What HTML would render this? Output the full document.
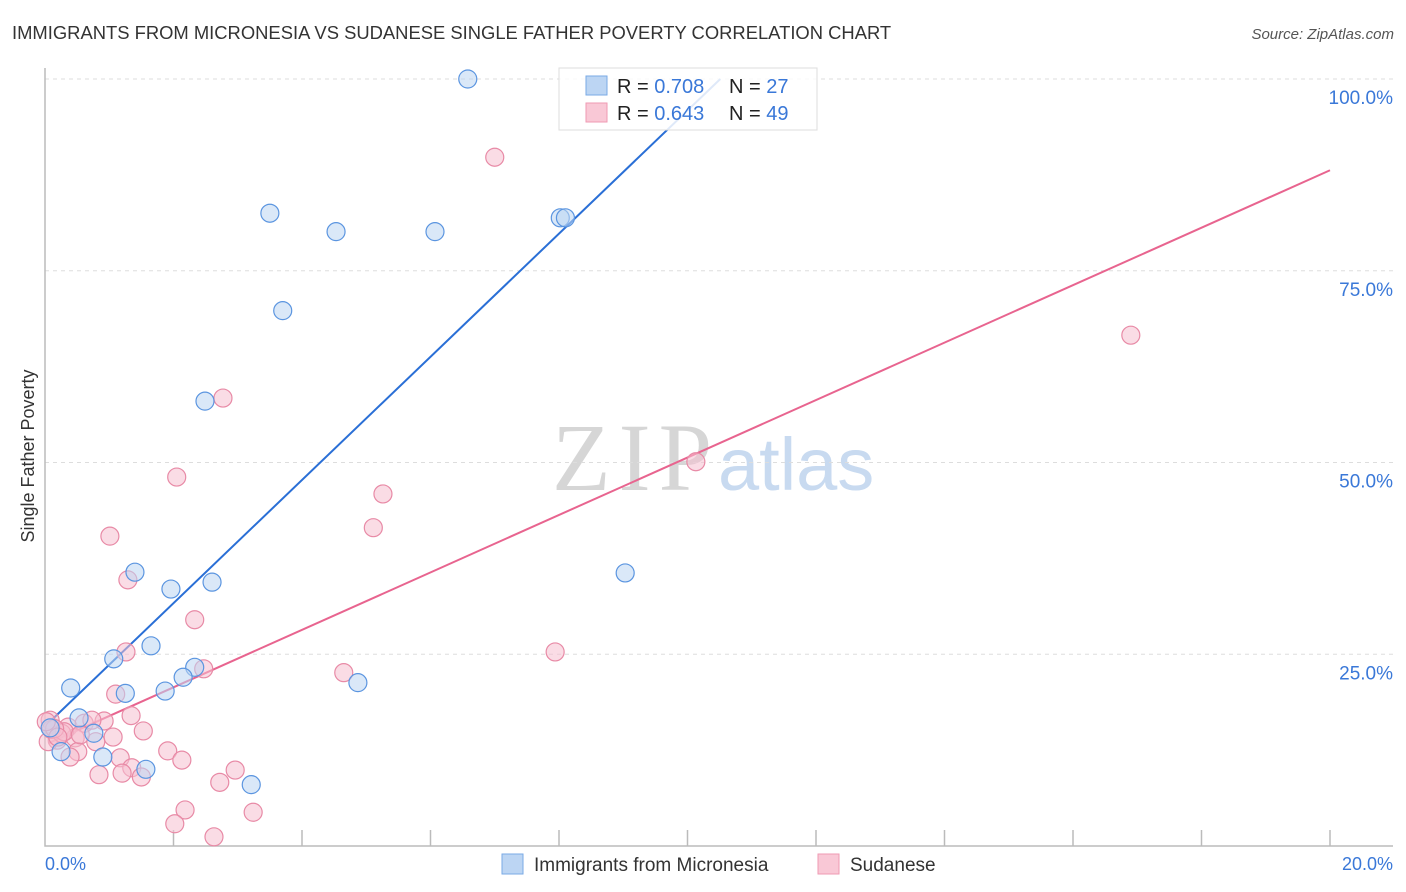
<!DOCTYPE html>
<html><head><meta charset="utf-8"><style>
body{margin:0;background:#fff;font-family:"Liberation Sans",sans-serif}
svg{display:block}
</style></head><body>
<svg id="chart" width="1406" height="892" xmlns="http://www.w3.org/2000/svg">
<text x="12" y="39" font-size="18.4" fill="#333">IMMIGRANTS FROM MICRONESIA VS SUDANESE SINGLE FATHER POVERTY CORRELATION CHART</text>
<text x="1394" y="39" font-size="15" fill="#555" font-style="italic" text-anchor="end">Source: ZipAtlas.com</text>
<g><text x="552" y="490" font-size="96" fill="#d6d6d6" font-family="Liberation Serif,serif" textLength="160">ZIP</text><text x="718" y="490" font-size="74" fill="#c8daf0">atlas</text></g>
<g id="grid"></g>
<g id="axes"></g>
<g id="lines"></g>
<g id="points"></g>
<text transform="translate(34,456) rotate(-90)" font-size="18" fill="#333" text-anchor="middle">Single Father Poverty</text>
<g>
<rect x="559" y="68" width="258" height="62" fill="#fff" fill-opacity="0.85" stroke="#ddd"/>
<rect x="586" y="76" width="21" height="19" fill="#bcd5f3" stroke="#7aaae6"/>
<rect x="586" y="103" width="21" height="19" fill="#f9c8d6" stroke="#ef9ab3"/>
<text x="617" y="93" font-size="20" fill="#222">R = <tspan fill="#3a78d8">0.708</tspan></text>
<text x="729" y="93" font-size="20" fill="#222">N = <tspan fill="#3a78d8">27</tspan></text>
<text x="617" y="120" font-size="20" fill="#222">R = <tspan fill="#3a78d8">0.643</tspan></text>
<text x="729" y="120" font-size="20" fill="#222">N = <tspan fill="#3a78d8">49</tspan></text>
</g>
<g>
<rect x="502" y="854" width="21" height="20" fill="#bcd5f3" stroke="#7aaae6"/>
<text x="534" y="871" font-size="19" fill="#333">Immigrants from Micronesia</text>
<rect x="818" y="854" width="21" height="20" fill="#f9c8d6" stroke="#ef9ab3"/>
<text x="850" y="871" font-size="19" fill="#333">Sudanese</text>
</g>
</svg>
<script>
const xTickLabels=["0.0%","20.0%"];
const yTicks=[25,50,75,100];
const yTickLabels=["25.0%","50.0%","75.0%","100.0%"];
const blueX=[6.58,3.50,4.53,6.07,8.02,8.10,3.70,2.49,1.40,1.96,2.60,9.03,1.65,1.07,2.33,2.15,0.40,1.25,1.87,4.87,0.53,0.76,0.25,0.90,1.57,3.21,0.08];
const blueY=[100,82.5,80.1,80.1,81.9,81.9,69.8,58.0,35.7,33.5,34.4,35.6,26.1,24.4,23.3,22.0,20.6,19.9,20.2,21.3,16.7,14.7,12.3,11.6,10.0,8.0,15.4];
const pinkX=[7.00,16.9,2.77,2.05,5.26,10.13,5.11,1.01,1.29,2.33,1.26,7.94,2.47,4.65,1.10,1.34,0.92,0.08,0.36,0.61,0.73,1.53,1.06,0.79,0.47,0.19,0.05,0.51,0.39,1.91,1.17,2.13,1.35,1.20,0.84,1.50,2.96,2.72,2.18,2.02,2.63,3.24,0.26,0.10,0.30,0.15,0.55,0.20,0.02];
const pinkY=[89.8,66.6,58.4,48.1,45.9,50.1,41.5,40.4,34.7,29.5,25.3,25.3,23.1,22.6,19.8,17.0,16.3,16.4,15.5,16.0,16.4,15.0,14.2,13.6,14.1,13.8,13.6,12.3,11.6,12.4,11.5,11.2,10.2,9.5,9.3,9.0,9.9,8.3,4.7,2.9,1.2,4.4,14.7,15.2,14.9,15.3,14.5,14.2,16.2];
const blueFit=[15.6,8.03];
const pinkFit=[13.2,3.745];
const NS="http://www.w3.org/2000/svg";
const xs=v=>45+v*64.25, ys=v=>846-v*7.67;
function mk(tag,attrs,parent){const e=document.createElementNS(NS,tag);for(const k in attrs)e.setAttribute(k,attrs[k]);parent.appendChild(e);return e;}
const grid=document.getElementById('grid'),axes=document.getElementById('axes'),lines=document.getElementById('lines'),pts=document.getElementById('points');
yTicks.forEach((t,i)=>{
 const l=mk('line',{x1:45,x2:1393,y1:ys(t),y2:ys(t),stroke:'#ddd','stroke-dasharray':'4,4'},grid);
 
 
 const tx=mk('text',{x:1393,y:ys(t)+25,'font-size':19,fill:'#3a78d8','text-anchor':'end'},axes);
 tx.textContent=yTickLabels[i];
 
 
});
const ax=mk('path',{d:'M45,68V846H1393',fill:'none',stroke:'#bbb','stroke-width':1.5},axes);


for(let i=1;i<=10;i++){const t=mk('line',{x1:xs(i*2),x2:xs(i*2),y1:830,y2:846,stroke:'#bbb','stroke-width':1.5},axes);
 
 }
[[0,'start',45],[20,'end',1393]].forEach((a,i)=>{const t=mk('text',{x:a[2],y:870,'font-size':18,fill:'#3a78d8','text-anchor':a[1]},axes);t.textContent=xTickLabels[i];
 
 });
function drawPts(X,Y,fill,stroke,name){X.forEach((x,i)=>{const c=mk('circle',{cx:xs(x),cy:ys(Y[i]),r:9,fill:fill,'fill-opacity':0.55,stroke:stroke,'stroke-width':1.2},pts);
 
 });}
drawPts(pinkX,pinkY,'#f6bfcf','#e88aa6','sudanese-point');
drawPts(blueX,blueY,'#bcd5f3','#5b95e0','micronesia-point');
const bx2=(100-blueFit[0])/blueFit[1];
const bl=mk('line',{x1:xs(0.05),y1:ys(blueFit[0]+blueFit[1]*0.05),x2:xs(bx2),y2:ys(100),stroke:'#2a6fd6','stroke-width':2},lines);


const pl=mk('line',{x1:xs(0.05),y1:ys(pinkFit[0]+pinkFit[1]*0.05),x2:xs(20),y2:ys(pinkFit[0]+pinkFit[1]*20),stroke:'#e8648f','stroke-width':2},lines);


</script>
</body></html>
